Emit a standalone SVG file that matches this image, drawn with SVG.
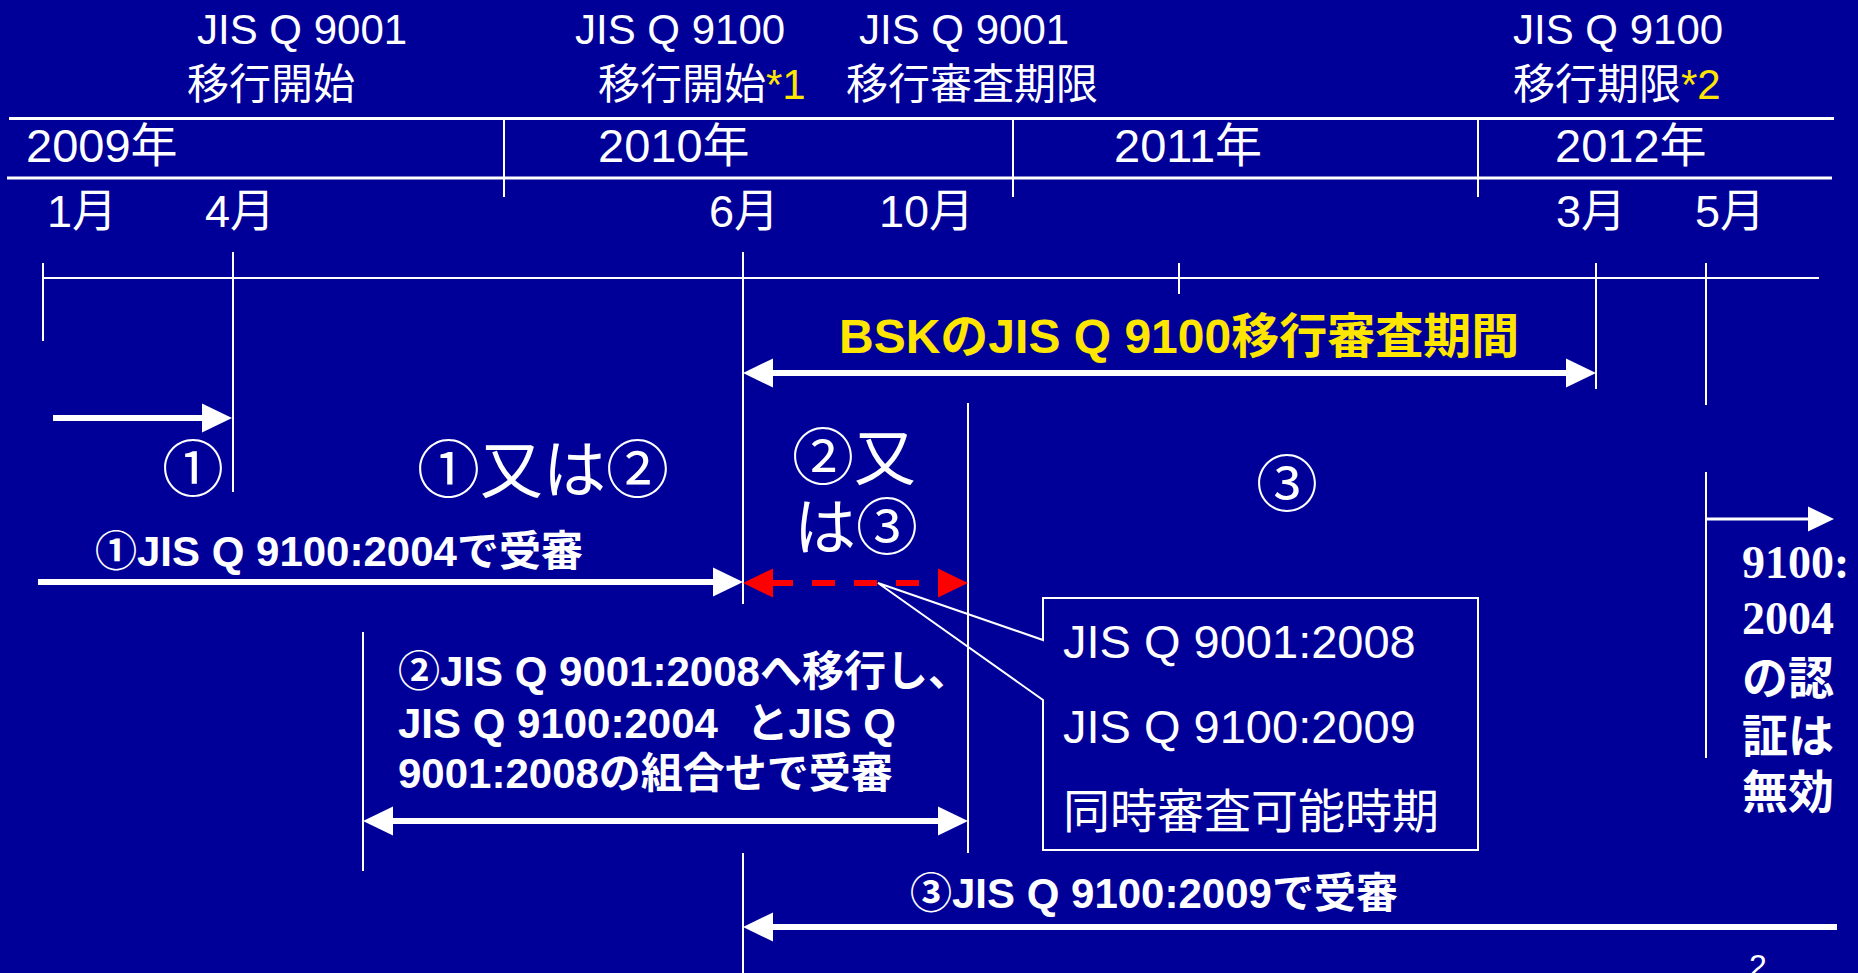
<svg xmlns="http://www.w3.org/2000/svg" width="1858" height="973" viewBox="0 0 1858 973">
<style>
.t{font-family:"Liberation Sans","Noto Sans CJK JP",sans-serif;fill:#ffffff}
.b{font-weight:bold}
.y{fill:#ffe600}
.ln{stroke:#ffffff;stroke-width:2;fill:none}
.hl{stroke:#ffffff;stroke-width:3;fill:none}
.arr{stroke:#ffffff;stroke-width:6;fill:none}
</style>
<defs>
<marker id="ah" markerUnits="userSpaceOnUse" markerWidth="30" markerHeight="29" refX="0" refY="14.5" orient="auto-start-reverse" overflow="visible">
<path d="M0,0 L30,14.5 L0,29 Z" fill="#ffffff"/>
</marker>
<marker id="ahr" markerUnits="userSpaceOnUse" markerWidth="30" markerHeight="29" refX="0" refY="14.5" orient="auto-start-reverse" overflow="visible">
<path d="M0,0 L30,14.5 L0,29 Z" fill="#ff0000"/>
</marker>
<marker id="ahs" markerUnits="userSpaceOnUse" markerWidth="26" markerHeight="25" refX="0" refY="12.5" orient="auto" overflow="visible">
<path d="M0,0 L26,12.5 L0,25 Z" fill="#ffffff"/>
</marker>
</defs>
<rect x="0" y="0" width="1858" height="973" fill="#000099"/>

<g id="header">
<line class="hl" x1="9" y1="118.5" x2="1834" y2="118.5"/>
<line class="hl" x1="7" y1="178" x2="1832" y2="178"/>
<line class="ln" x1="504" y1="118" x2="504" y2="197"/>
<line class="ln" x1="1013" y1="118" x2="1013" y2="197"/>
<line class="ln" x1="1478" y1="118" x2="1478" y2="197"/>
</g>

<g id="milestones">
<text class="t" x="197" y="44" font-size="42">JIS Q 9001</text>
<text class="t" x="187" y="99" font-size="42">移行開始</text>
<text class="t" x="575" y="44" font-size="42">JIS Q 9100</text>
<text class="t" x="598" y="99" font-size="42">移行開始<tspan class="y">*1</tspan></text>
<text class="t" x="859" y="44" font-size="42">JIS Q 9001</text>
<text class="t" x="846" y="99" font-size="42">移行審査期限</text>
<text class="t" x="1513" y="44" font-size="42">JIS Q 9100</text>
<text class="t" x="1513" y="99" font-size="42">移行期限<tspan class="y">*2</tspan></text>
</g>

<g id="years">
<text class="t" x="26" y="162" font-size="47">2009年</text>
<text class="t" x="598" y="162" font-size="47">2010年</text>
<text class="t" x="1114" y="162" font-size="47">2011年</text>
<text class="t" x="1555" y="162" font-size="47">2012年</text>
</g>

<g id="months">
<text class="t" x="47" y="227" font-size="45">1月</text>
<text class="t" x="205" y="227" font-size="45">4月</text>
<text class="t" x="709" y="227" font-size="45">6月</text>
<text class="t" x="879" y="227" font-size="45">10月</text>
<text class="t" x="1556" y="227" font-size="45">3月</text>
<text class="t" x="1695" y="227" font-size="45">5月</text>
</g>

<g id="timeline">
<line class="ln" x1="43" y1="278" x2="1819" y2="278"/>
<line class="ln" x1="43" y1="263" x2="43" y2="341"/>
<line class="ln" x1="233" y1="252" x2="233" y2="492"/>
<line class="ln" x1="743" y1="252" x2="743" y2="604"/>
<line class="ln" x1="743" y1="853" x2="743" y2="973"/>
<line class="ln" x1="1179" y1="263" x2="1179" y2="294"/>
<line class="ln" x1="1596" y1="263" x2="1596" y2="389"/>
<line class="ln" x1="1706" y1="263" x2="1706" y2="405"/>
<line class="ln" x1="1706" y1="472" x2="1706" y2="758"/>
<line class="ln" x1="968" y1="403" x2="968" y2="853"/>
<line class="ln" x1="363" y1="632" x2="363" y2="871"/>
</g>

<g id="connectors">
<line class="arr" x1="53" y1="418" x2="202" y2="418" marker-end="url(#ah)"/>
<line class="arr" x1="773" y1="373" x2="1566" y2="373" marker-start="url(#ah)" marker-end="url(#ah)"/>
<line class="arr" x1="38" y1="582" x2="713" y2="582" marker-end="url(#ah)"/>
<line x1="773" y1="583" x2="938" y2="583" stroke="#ff0000" stroke-width="6" stroke-dasharray="20 19 23 19 23 19 23 19" marker-start="url(#ahr)" marker-end="url(#ahr)"/>
<line class="arr" x1="393" y1="821" x2="938" y2="821" marker-start="url(#ah)" marker-end="url(#ah)"/>
<line class="arr" x1="1837" y1="927" x2="773" y2="927" marker-end="url(#ah)"/>
<line x1="1707" y1="519" x2="1808" y2="519" stroke="#ffffff" stroke-width="3" marker-end="url(#ahs)"/>
</g>

<g id="labels">
<text class="t" x="162" y="492" font-size="62">①</text>
<text class="t" x="417" y="492" font-size="63">①又は②</text>
<text class="t" x="792" y="480" font-size="62">②又</text>
<text class="t" x="794" y="550" font-size="62">は③</text>
<text class="t" x="1256" y="507" font-size="62">③</text>
<text class="t b y" x="839" y="353" font-size="48">BSKのJIS Q 9100移行審査期間</text>
<text class="t b" x="95" y="566" font-size="42">①JIS Q 9100:2004で受審</text>
<text class="t b" x="910" y="908" font-size="42">③JIS Q 9100:2009で受審</text>
</g>

<g id="option2">
<text class="t b" x="398" y="686" font-size="42">②JIS Q 9001:2008へ移行し、</text>
<text class="t b" x="398" y="738" font-size="42">JIS Q 9100:2004 <tspan dx="17">とJIS Q</tspan></text>
<text class="t b" x="398" y="788" font-size="42">9001:2008の組合せで受審</text>
</g>

<g id="callout">
<polygon class="ln" points="1043,598 1478,598 1478,850 1043,850 1043,700 878,583 1043,640"/>
<text class="t" x="1063" y="658" font-size="47">JIS Q 9001:2008</text>
<text class="t" x="1063" y="743" font-size="47">JIS Q 9100:2009</text>
<text class="t" x="1063" y="828" font-size="47">同時審査可能時期</text>
</g>

<g id="expiry">
<text x="1742" y="578" font-size="46" font-weight="bold" font-family="'Liberation Serif','Noto Sans CJK JP',serif" fill="#ffffff">9100:</text>
<text x="1742" y="634" font-size="46" font-weight="bold" font-family="'Liberation Serif','Noto Sans CJK JP',serif" fill="#ffffff">2004</text>
<text class="t b" x="1742" y="694" font-size="46">の認</text>
<text class="t b" x="1742" y="752" font-size="46">証は</text>
<text class="t b" x="1742" y="808" font-size="46">無効</text>
</g>

<g id="page">
<text class="t" x="1749" y="977" font-size="32">2</text>
</g>
</svg>
